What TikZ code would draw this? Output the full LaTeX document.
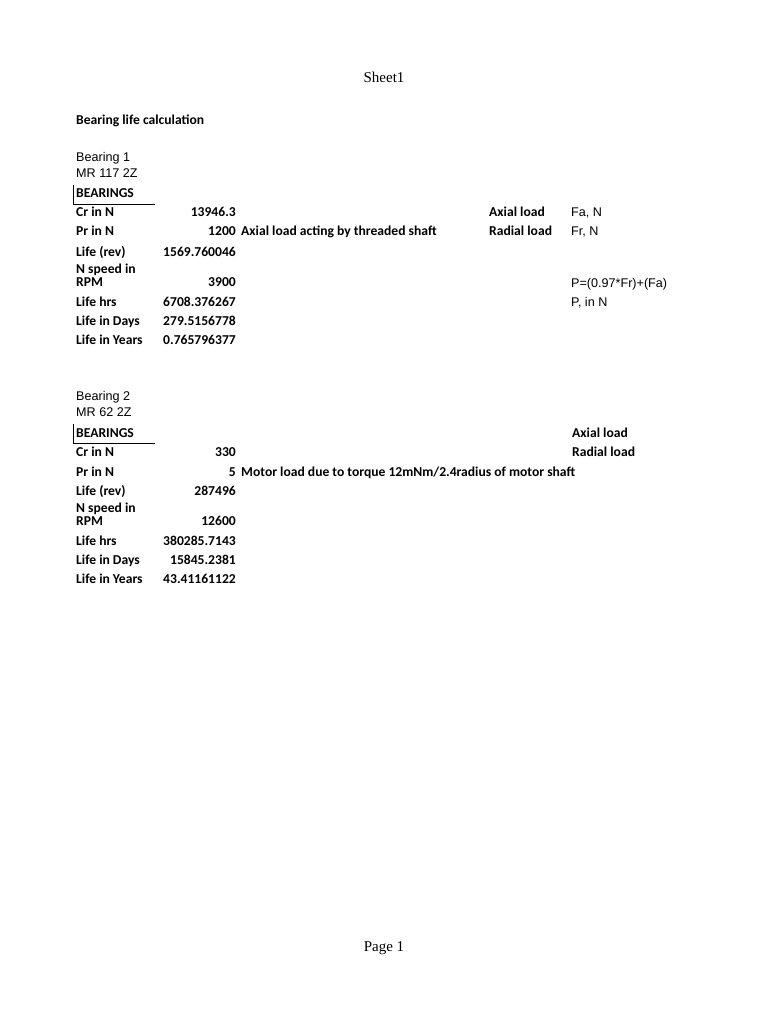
\documentclass[tikz,border=0pt]{standalone}
\usepackage{fontspec}
\setmainfont{Liberation Serif}
\newfontfamily\calfnt{Carlito}
\newfontfamily\arifnt{Liberation Sans}
\begin{document}
\begin{tikzpicture}[x=1pt,y=-1pt,
 every node/.style={inner sep=0pt},
 b/.style={anchor=base west,font=\calfnt\bfseries\fontsize{13.6}{14}\selectfont},
 bv/.style={anchor=base east,font=\calfnt\bfseries\fontsize{13.6}{14}\selectfont},
 a/.style={anchor=base west,font=\arifnt\fontsize{12.6}{14}\selectfont},
 h/.style={anchor=base,font=\fontsize{15}{16}\selectfont}]
\useasboundingbox (0,0) rectangle (768,1024);
\node[h] (sh) at (384,83) {Sheet1};
\node[h] (pg) at (384,951) {Page 1};
\node[b] (title) at (76,125) {Bearing life calculation};
% Bearing 1
\node[a] (b1) at (76,162) {Bearing 1};
\node[a] (m1) at (76,178) {MR 117 2Z};
\node[b] (h1) at (76,198) {BEARINGS};
\draw[line width=0.8] (73,185) -- (73,204) -- (155,204);
\foreach \n/\l/\v/\y in {c1/Cr in N/13946.3/217, p1/Pr in N/1200/236, l1/Life (rev)/1569.760046/256, r1/RPM/3900/286, hh1/Life hrs/6708.376267/306, d1/Life in Days/279.5156778/325, y1/Life in Years/0.765796377/344}{
 \node[b] (\n) at (76,\y) {\l};
 \node[bv] (\n v) at (236,\y) {\v};}
\node[b] (s1) at (76,273) {N speed in};
\node[b] (n1) at (241,236) {Axial load acting by threaded shaft};
\node[b] (ax1) at (489,217) {Axial load};
\node[b] (ra1) at (489,236) {Radial load};
\node[a] (fa) at (571,217) {Fa, N};
\node[a] (fr) at (571,236) {Fr, N};
\node[a] (pf) at (571,287) {P=(0.97*Fr)+(Fa)};
\node[a] (pn) at (571,306) {P, in N};
% Bearing 2
\node[a] (b2) at (76,400) {Bearing 2};
\node[a] (m2) at (76,416) {MR 62 2Z};
\node[b] (h2) at (76,437) {BEARINGS};
\draw[line width=0.8] (73,424) -- (73,443) -- (155,443);
\foreach \n/\l/\v/\y in {c2/Cr in N/330/456, p2/Pr in N/5/476, l2/Life (rev)/287496/495, r2/RPM/12600/525, hh2/Life hrs/380285.7143/545, d2/Life in Days/15845.2381/564, y2/Life in Years/43.41161122/583}{
 \node[b] (\n) at (76,\y) {\l};
 \node[bv] (\n v) at (236,\y) {\v};}
\node[b] (s2) at (76,512) {N speed in};
\node[b] (n2) at (241,476) {Motor load due to torque 12mNm/2.4radius of motor shaft};
\node[b] (ax2) at (572,437) {Axial load};
\node[b] (ra2) at (572,456) {Radial load};
\end{tikzpicture}
\end{document}
